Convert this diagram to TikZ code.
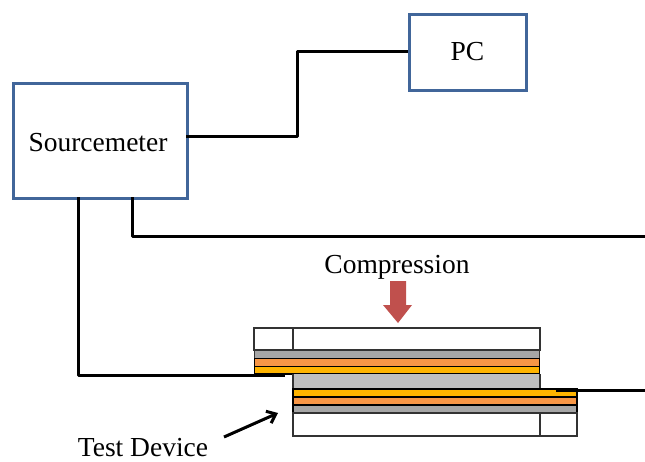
\documentclass[tikz,border=0pt]{standalone}
\usepackage{fontspec}
\setmainfont{Liberation Serif}
\usetikzlibrary{arrows.meta}
\definecolor{boxblue}{HTML}{41669A}
\definecolor{pushred}{HTML}{C0504D}
\definecolor{gold}{HTML}{FFB400}
\definecolor{tan}{HTML}{F79646}
\definecolor{midgrey}{HTML}{A6A6A6}
\definecolor{liteGrey}{HTML}{BFBFBF}
\tikzset{
  x=1pt,y=-1pt,
  unitbox/.style={draw=boxblue,line width=3pt,fill=white,inner sep=0pt,font=\fontsize{27.5}{30}\selectfont},
  wire/.style={draw=black,line width=3pt,line join=round},
  layer/.style={draw=black,line width=1.7pt},
  plate/.style={draw=black!80,line width=2pt,fill=white},
  label/.style={inner sep=0pt,font=\fontsize{27.5}{30}\selectfont},
}
\begin{document}
\begin{tikzpicture}
\useasboundingbox (0,0) rectangle (645,461);
% instruments
\node[unitbox,minimum width=174pt,minimum height=115pt,anchor=north west] (sm) at (11.5,81.5) {};
\node[label] (smt) at (98,143) {Sourcemeter};
\node[unitbox,minimum width=117pt,minimum height=76pt,anchor=north west] (pc) at (407.5,12.5) {PC};
% wires
\coordinate (r1) at (645,236);
\coordinate (r2) at (645,390);
\coordinate (r2s) at (556,390);
\coordinate (l2e) at (285,375);
\coordinate (smA) at (78,197);
\coordinate (smB) at (132,197);
\coordinate (smC) at (186,136);
\coordinate (pcW) at (408,51);
\draw[wire] (smC) -- (297,136) -- (297,51) -- (pcW);
\draw[wire] (smB) -- (132,236) -- (r1);
\draw[wire] (smA) -- (78,375) -- (l2e);
% upper stack
\draw[plate] (254,328) rectangle (540,350);
\draw[plate] (293,328) -- (293,350);
\draw[layer,fill=midgrey,draw=black!80] (254.5,350) rectangle (539.5,358.5);
\draw[layer,fill=tan] (254.5,358.5) rectangle (539.5,366.5);
\draw[layer,fill=gold] (254.5,366.5) rectangle (539.5,374);
% spacer
\draw[draw=black!80,line width=2pt,fill=liteGrey] (293,374) -- (293,389) -- (540,389) -- (540,374);
% lower stack
\draw[layer,fill=gold] (293,389) rectangle (577,397);
\draw[layer,fill=tan] (293,397) rectangle (577,405);
\draw[layer,fill=midgrey] (293,405) rectangle (577,413);
\draw[plate] (293,413) rectangle (577,436);
\draw[plate] (540,413) -- (540,436);
\draw[wire] (r2s) -- (r2);
\draw[wire] (254,375) -- (l2e);
% compression arrow
\fill[pushred] (390,281) -- (406,281) -- (406,305) -- (412,305) -- (398,323) -- (383,305) -- (390,305) -- cycle;
\node[label] (comp) at (397,267) {Compression};
% test device
\node[label] (td) at (143,447.5) {Test Device};
\coordinate (ta) at (224,437);
\coordinate (tb) at (278,413);
\draw[line width=3pt,-{Straight Barb[length=8pt,width=13pt]}] (ta) -- (tb);
\end{tikzpicture}
\end{document}
